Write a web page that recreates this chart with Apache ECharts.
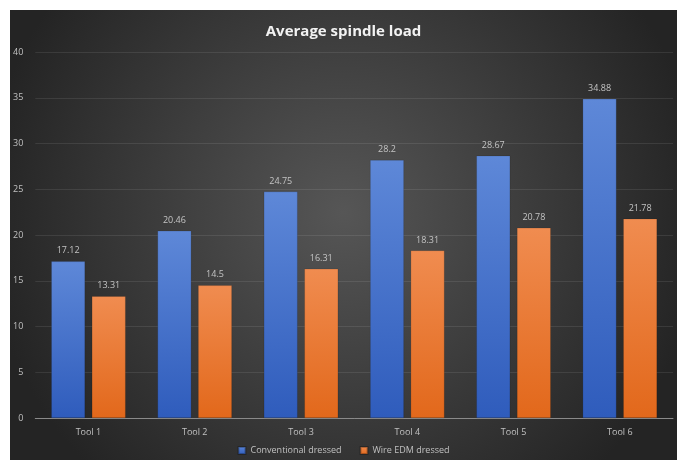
<!DOCTYPE html>
<html><head><meta charset="utf-8">
<script src="https://cdn.jsdelivr.net/npm/echarts@6/dist/echarts.min.js"></script>
<style>html,body{margin:0;padding:0;background:#fff;}#c{position:absolute;left:10px;top:10px;width:667px;height:450px;}</style>
</head><body><div id="c"></div>
<script>
const categories = ['Tool 1','Tool 2','Tool 3','Tool 4','Tool 5','Tool 6'];
const conventional = [17.12, 20.46, 24.75, 28.2, 28.67, 34.88];
const wireEDM = [13.31, 14.5, 16.31, 18.31, 20.78, 21.78];
const seriesNames = ['Conventional dressed','Wire EDM dressed'];

const chart = echarts.init(document.getElementById('c'));
const lg = (a,b)=>new echarts.graphic.LinearGradient(0,0,0,1,[{offset:0,color:a},{offset:1,color:b}]);
const label = {show:true, position:'top', color:'#c4c4c4', fontSize:9, fontFamily:'Open Sans', distance:6};
chart.setOption({
  backgroundColor: new echarts.graphic.RadialGradient(0.5,0.45,0.8,[{offset:0,color:'#565656'},{offset:1,color:'#242424'}]),
  title:{text:'Average spindle load', left:'center', top:9, textStyle:{color:'#f2f2f2', fontSize:15, fontWeight:'bold', fontFamily:'Open Sans'}},
  legend:{bottom:0, itemWidth:7, itemHeight:7, itemGap:18, icon:'rect', textStyle:{color:'#c0c0c0', fontSize:9, fontFamily:'Open Sans'}, data:seriesNames},
  grid:{left:24, right:4, top:42, bottom:42},
  xAxis:{type:'category', data:categories, axisTick:{show:false}, axisLine:{lineStyle:{color:'#8a8a8a'}},
    axisLabel:{color:'#c0c0c0', fontSize:9, fontFamily:'Open Sans', margin:10}},
  yAxis:{type:'value', min:0, max:40, interval:5, axisLine:{show:false}, axisTick:{show:false},
    splitLine:{lineStyle:{color:'rgba(255,255,255,0.09)', width:1}},
    axisLabel:{color:'#c0c0c0', fontSize:9, fontFamily:'Open Sans', margin:12}},
  series:[
    {name:seriesNames[0], type:'bar', data:conventional, barGap:'20%', barCategoryGap:'30%',
     itemStyle:{color:lg('#5e88d8','#2f5cbc'), borderColor:'rgba(0,0,0,0.25)', borderWidth:0.5}, label:label},
    {name:seriesNames[1], type:'bar', data:wireEDM,
     itemStyle:{color:lg('#f08c50','#e2681b'), borderColor:'rgba(0,0,0,0.25)', borderWidth:0.5}, label:label}
  ]
});
</script></body></html>
